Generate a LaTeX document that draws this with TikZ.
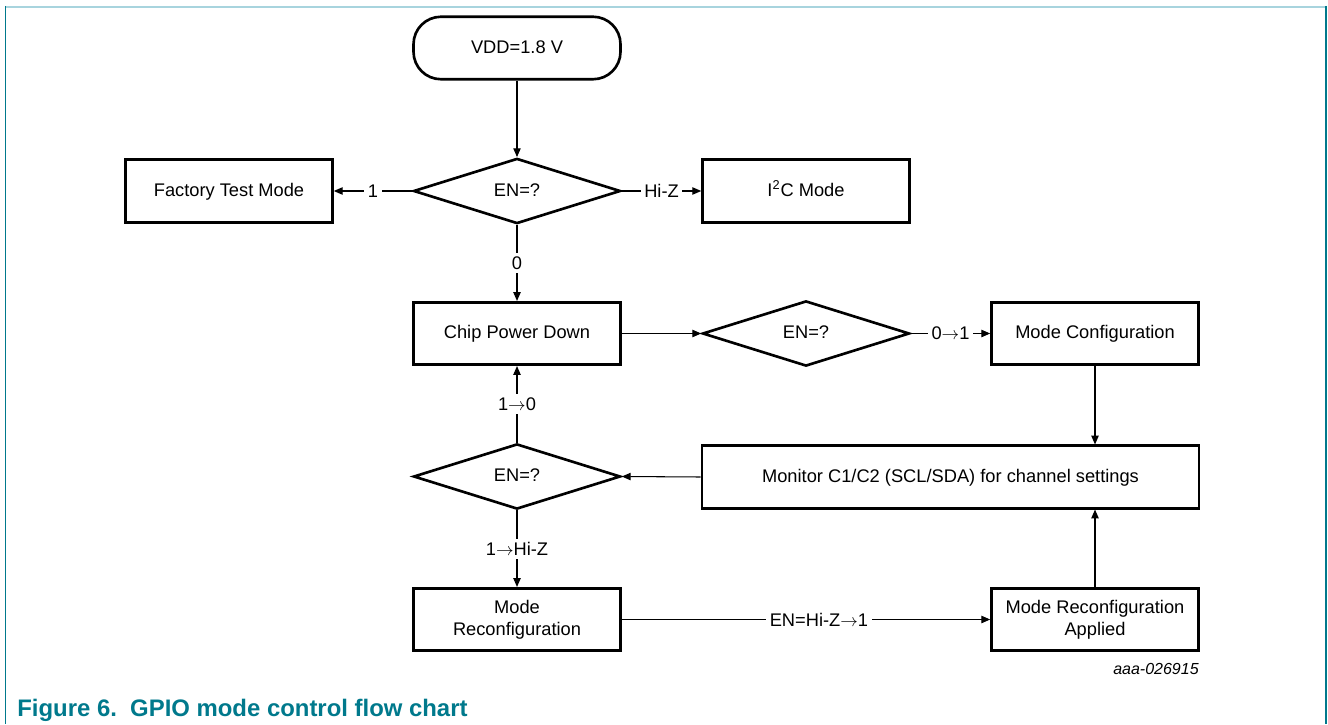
\documentclass[tikz,border=0pt]{standalone}
\usepackage{fontspec}
\setmainfont{Liberation Sans}
\usetikzlibrary{shapes.geometric, arrows.meta}
\definecolor{nxpteal}{RGB}{0,121,140}
\definecolor{framelight}{RGB}{168,212,222}
\newcommand{\boxfont}{\fontsize{10.4}{12.6}\selectfont}

\begin{document}
\begin{tikzpicture}[
  box/.style={draw, line width=1.5pt, minimum width=4.14cm, minimum height=1.25cm, align=center, font=\boxfont},
  oneline/.style={text height=1.6ex, text depth=0.45ex},
  terminal/.style={box, oneline, rounded corners=0.55cm},
  decision/.style={draw, diamond, line width=1.5pt, minimum width=4.14cm, minimum height=1.22cm, inner sep=0pt, font=\boxfont, oneline},
  link/.style={line width=0.6pt, -{Triangle[length=5pt, width=4.2pt]}},
  lbl/.style={fill=white, inner sep=2pt, font=\boxfont}
]
\useasboundingbox (0, 0) rectangle (26.56, 14.48);
% figure frame
\draw[framelight, line width=1.3pt] (0.1, 14.345) -- (26.53, 14.345);
\draw[nxpteal, line width=0.8pt] (0.106, 14.36) -- (0.106, 0);
\draw[nxpteal, line width=0.8pt] (26.52, 14.36) -- (26.52, 0);

% nodes
\node[terminal] (vdd) at (10.34, 13.52) {VDD=1.8 V};
\node[decision] (en1) at (10.34, 10.66) {EN=?};
\node[box, oneline] (ftm) at (4.58, 10.66) {Factory Test Mode};
\node[box, oneline] (iic) at (16.12, 10.66) {I\textsuperscript{2}C Mode};
\node[box, oneline] (cpd) at (10.34, 7.81) {Chip Power Down};
\node[decision] (en2) at (16.12, 7.81) {EN=?};
\node[box, oneline] (mcfg) at (21.90, 7.81) {Mode Configuration};
\node[box, oneline, minimum width=9.94cm] (mon) at (19.01, 4.94) {Monitor C1/C2 (SCL/SDA) for channel settings};
\node[decision] (en3) at (10.34, 4.95) {EN=?};
\node[box] (mrc) at (10.34, 2.09) {Mode\\Reconfiguration};
\node[box] (mra) at (21.90, 2.09) {Mode Reconfiguration\\Applied};

% connectors
\draw[link] (vdd) -- (en1);
\draw[link] (en1.west) -- node[lbl] {1} (ftm.east);
\draw[link] (en1.east) -- node[lbl] {Hi-Z} (iic.west);
\draw[link] (en1.south) -- node[lbl] {0} (cpd.north);
\draw[link] (cpd.east) -- (en2.west);
\draw[link] (en2.east) -- node[lbl] {0$\rightarrow$1} (mcfg.west);
\draw[link] (mcfg.south) -- (mcfg.south |- mon.north);
\draw[link] (mon.west) -- (en3.east);
\draw[link] (en3.north) -- node[lbl] {1$\rightarrow$0} (cpd.south);
\draw[link] (en3.south) -- node[lbl] {1$\rightarrow$Hi-Z} (mrc.north);
\draw[link] (mrc.east) -- node[lbl, pos=0.535] {EN=Hi-Z$\rightarrow$1} (mra.west);
\draw[link] (mra.north) -- (mra.north |- mon.south);

% tag and caption
\node[anchor=base east, inner sep=0pt, font=\fontsize{9.1}{11}\selectfont\itshape] (tag) at (23.98, 1.0) {aaa-026915};
\node[anchor=base west, inner sep=0pt, text=nxpteal, font=\fontsize{13.6}{16}\selectfont\bfseries] (cap) at (0.34, 0.16) {Figure 6.\ \ GPIO mode control flow chart};
\end{tikzpicture}
\end{document}
